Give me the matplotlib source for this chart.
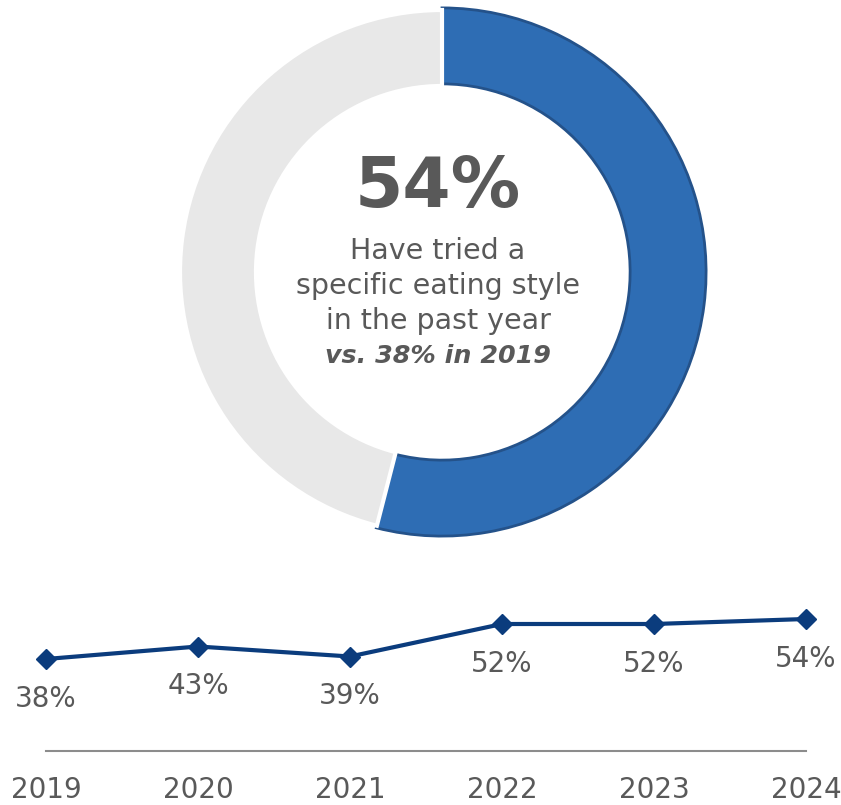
import matplotlib
matplotlib.use("Agg")
import matplotlib.pyplot as plt

# Donut: share who tried a specific eating style this year
share_labels = ["Tried", "Not tried"]
share_values = [54, 46]
headline = "54%"
caption_lines = ["Have tried a", "specific eating style", "in the past year"]
comparison = "vs. 38% in 2019"

# Trend line
years = ["2019", "2020", "2021", "2022", "2023", "2024"]
trend = [38, 43, 39, 52, 52, 54]

TEXT = "#595959"
BLUE = "#2e6db4"
BLUE_EDGE = "#24528a"
GREY = "#e8e8e8"
NAVY = "#0b3c7d"

W, H = 841, 805
fig = plt.figure(figsize=(W / 100, H / 100), dpi=100)
plt.rcParams["font.family"] = ["DejaVu Sans"]

# ---- donut ----
cx, cy, half = 442, 272, 270
ax_d = fig.add_axes([(cx - half) / W, (H - cy - half) / H, 2 * half / W, 2 * half / H])
wedges, _ = ax_d.pie(
    share_values, startangle=90, counterclock=False,
    colors=[BLUE, GREY], radius=1.0,
    wedgeprops=dict(width=0.29, edgecolor="white", linewidth=3),
)
wedges[0].set_radius(1.008)
wedges[0].set_edgecolor(BLUE_EDGE)
wedges[0].set_linewidth(2)
lim = half / 262
ax_d.set_xlim(-lim, lim)
ax_d.set_ylim(-lim, lim)
ax_d.set_aspect("equal")
ax_d.axis("off")

def fy(py):
    return 1 - py / H

def fx(px):
    return px / W

fig.text(fx(438), fy(188), headline, ha="center", va="center",
         fontsize=50, fontweight="bold", color=TEXT)
for i, line in enumerate(caption_lines):
    fig.text(fx(438), fy(251 + 35 * i), line, ha="center", va="center",
             fontsize=20.5, color=TEXT)
fig.text(fx(438), fy(356), comparison, ha="center", va="center",
         fontsize=18.3, fontweight="bold", style="italic", color=TEXT)

# ---- trend line ----
top_px, bot_px = 600, 751
ax_l = fig.add_axes([0, (H - bot_px) / H, 1, (bot_px - top_px) / H])
xs = list(range(len(years)))
ax_l.plot(xs, trend, color=NAVY, lw=3, marker="D", markersize=10.5,
          markeredgecolor=NAVY, markerfacecolor=NAVY, clip_on=False)
ax_l.set_xlim(-46 / 152, (W - 46) / 152)
y_at = lambda py: 38 + (659 - py) / 2.5
ax_l.set_ylim(y_at(bot_px), y_at(top_px))
for x, v in zip(xs, trend):
    ax_l.annotate(f"{v}%", (x, v), xytext=(0, -28.5), textcoords="offset points",
                  ha="center", va="center", fontsize=20, color=TEXT)
for s in ["top", "left", "right"]:
    ax_l.spines[s].set_visible(False)
ax_l.spines["bottom"].set_bounds(0, len(years) - 1)
ax_l.spines["bottom"].set_color("#8c8c8c")
ax_l.spines["bottom"].set_linewidth(1.5)
ax_l.set_yticks([])
ax_l.set_xticks(xs)
ax_l.set_xticklabels(years, fontsize=20, color=TEXT)
ax_l.tick_params(axis="x", length=0, pad=18)
ax_l.patch.set_visible(False)

fig.savefig("out.png", dpi=100)
